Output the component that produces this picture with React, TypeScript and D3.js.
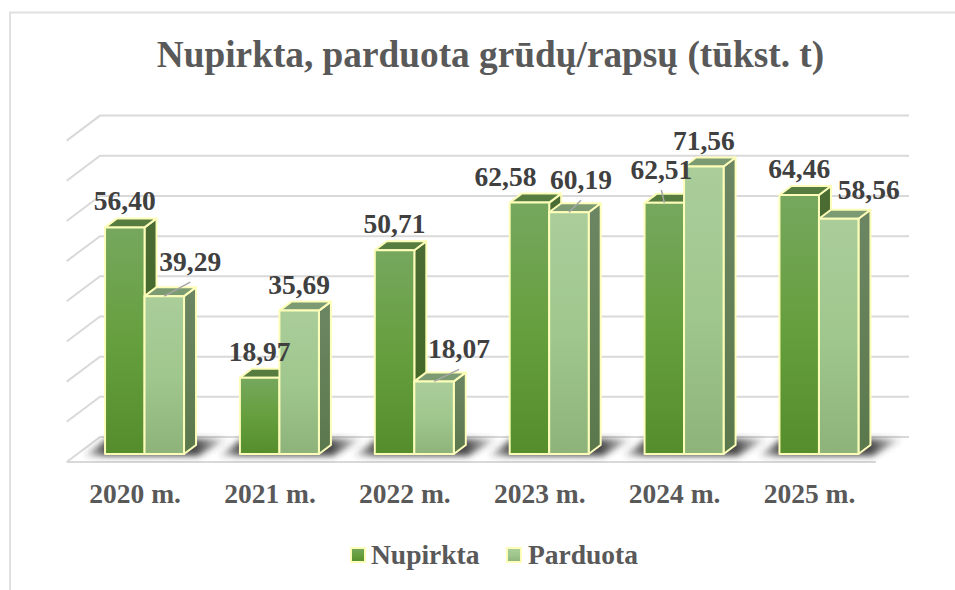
import React from "react";
import { scaleBand, scaleLinear, polygonHull, line } from "d3";

const years = ["2020 m.", "2021 m.", "2022 m.", "2023 m.", "2024 m.", "2025 m."];
const nupirkta = [56.4, 18.97, 50.71, 62.58, 62.51, 64.46];
const parduota = [39.29, 35.69, 18.07, 60.19, 71.56, 58.56];
const seriesNames = ["Nupirkta", "Parduota"];
const gridTicks = [0, 10, 20, 30, 40, 50, 60, 70, 80];
const title = "Nupirkta, parduota grūdų/rapsų (tūkst. t)";

// hand placed labels, [series][year] => [dx, dy, has leader line]
const labelMoves: Record<string, [number, number, boolean]> = {
  "1-0": [26, -8, true],
  "1-2": [25, -6, true],
  "0-3": [-24, 0, false],
  "1-3": [12, -6, true],
  "0-4": [-3, -7, true],
  "1-5": [30, -3, false],
};

const WIDTH = 955;
const HEIGHT = 590;
const FONT = "'Liberation Serif', serif";
const DARK = "#404040";
const GREY = "#595959";
const GRID = "#d9d9d9";
const EDGE = "#fdfdba";

// plot geometry
const backLeft = 100;
const frontLeft = 66.7;
const frontRight = 876;
const backRight = 909;
const floorDrop = 25;
const planeDrop = 17; // bars stand this far in front of the back wall
const depthX = 12;
const depthY = 9;
const barWidth = 39.5;
const barShift = 10.4;

const x = scaleBand<string>().domain(years).range([frontLeft, frontRight]);
const y = scaleLinear().domain([0, 80]).range([437, 115.6]);

const fmt = (v: number) => v.toFixed(2).replace(".", ",");
const pts = (p: [number, number][]) => p.map((d) => d.join(",")).join(" ");

const Grad = ({ id, stops }: { id: string; stops: string[] }) => (
  <linearGradient id={id} x1="0" y1="0" x2="0" y2="1">
    {stops.map((c, i) => (
      <stop key={i} offset={i / (stops.length - 1)} stopColor={c} />
    ))}
  </linearGradient>
);

const Bar = ({ s, year, value }: { s: number; year: string; value: number }) => {
  const x0 = (x(year) as number) + x.bandwidth() / 2 + barShift - barWidth + s * barWidth;
  const x1 = x0 + barWidth;
  const top = y(value) + planeDrop;
  const base = y(0) + planeDrop;
  return (
    <g stroke={EDGE} strokeWidth={2} strokeLinejoin="round">
      <polygon
        points={pts([[x1, top], [x1 + depthX, top - depthY], [x1 + depthX, base - depthY], [x1, base]])}
        fill={`url(#side${s})`}
      />
      <polygon
        points={pts([[x0, top], [x0 + depthX, top - depthY], [x1 + depthX, top - depthY], [x1, top]])}
        fill={s === 0 ? "#567c3f" : "#7c9b72"}
      />
      <rect x={x0} y={top} width={barWidth} height={base - top} fill={`url(#front${s})`} />
    </g>
  );
};

const Shadow = ({ year }: { year: string }) => {
  const x0 = (x(year) as number) + x.bandwidth() / 2 + barShift - barWidth;
  const x1 = x0 + 2 * barWidth;
  const hull = polygonHull([
    [x0 - 22, 456],
    [x0 + 2, 439],
    [x1 + 44, 439],
    [x1 + 14, 456],
  ]) as [number, number][];
  return <polygon points={pts(hull)} fill="url(#shadow)" filter="url(#soft)" />;
};

const Label = ({ s, i, value }: { s: number; i: number; value: number }) => {
  const year = years[i];
  const cx = (x(year) as number) + x.bandwidth() / 2 + barShift - barWidth + s * barWidth + barWidth / 2;
  const top = y(value) + planeDrop;
  const [dx, dy, leader] = labelMoves[`${s}-${i}`] || [0, 0, false];
  const lx = cx + dx;
  const ly = top - 17 + dy;
  const path = line()([[cx, top], [lx, ly + 11]]) as string;
  return (
    <g>
      {leader && <path d={path} stroke="#a6a6a6" strokeWidth={1.5} fill="none" />}
      <text x={lx} y={ly} textAnchor="middle" fontSize={27.5} fontWeight="bold" fill={DARK}>
        {fmt(value)}
      </text>
    </g>
  );
};

export default function App() {
  return (
    <svg
      width={WIDTH}
      height={HEIGHT}
      fontFamily={FONT}
      style={{ position: "absolute", left: 0, top: 0, background: "#fff" }}
    >
      <defs>
        <Grad id="front0" stops={["#76a75e", "#669f3e", "#558d2c"]} />
        <Grad id="front1" stops={["#aacd9a", "#a0c78e", "#8db37b"]} />
        <Grad id="side0" stops={["#4b6c34", "#44692a", "#41682a"]} />
        <Grad id="side1" stops={["#6c8663", "#648058", "#5a784c"]} />
        <linearGradient id="shadow" x1="0" y1="0" x2="1" y2="0">
          <stop offset="0" stopColor="#333" stopOpacity={0.05} />
          <stop offset="0.15" stopColor="#333" stopOpacity={0.85} />
          <stop offset="0.78" stopColor="#333" stopOpacity={0.9} />
          <stop offset="1" stopColor="#333" stopOpacity={0.05} />
        </linearGradient>
        <filter id="soft" x="-20%" y="-40%" width="140%" height="180%">
          <feGaussianBlur stdDeviation="3" />
        </filter>
      </defs>

      {/* chart frame runs off the right and bottom of the picture */}
      <path d={`M${WIDTH},12.5H10V${HEIGHT}`} fill="none" stroke="#e0e0e0" strokeWidth={2} />

      <text x={490.5} y={67} textAnchor="middle" fontSize={37.3} fontWeight="bold" fill={GREY}>
        {title}
      </text>

      {/* walls */}
      <g stroke={GRID} strokeWidth={2} fill="none">
        {gridTicks.map((t) => (
          <path
            key={t}
            d={`M${frontLeft},${y(t) + floorDrop}L${backLeft},${y(t)}H${backRight}`}
          />
        ))}
        <path d={`M${frontLeft},${y(0) + floorDrop}H${frontRight}`} />
      </g>

      {years.map((d) => (
        <Shadow key={d} year={d} />
      ))}
      {years.map((d, i) => (
        <g key={d}>
          <Bar s={0} year={d} value={nupirkta[i]} />
          <Bar s={1} year={d} value={parduota[i]} />
        </g>
      ))}

      {years.map((d, i) => (
        <g key={d}>
          <Label s={0} i={i} value={nupirkta[i]} />
          <Label s={1} i={i} value={parduota[i]} />
        </g>
      ))}

      {years.map((d) => (
        <text
          key={d}
          x={(x(d) as number) + x.bandwidth() / 2 + 1}
          y={503}
          textAnchor="middle"
          fontSize={27.5}
          fontWeight="bold"
          fill={GREY}
        >
          {d}
        </text>
      ))}

      {/* legend */}
      {seriesNames.map((name, s) => (
        <g key={name} transform={`translate(${s === 0 ? 351 : 507},548)`}>
          <rect width={14} height={14} fill={`url(#front${s})`} stroke={EDGE} strokeWidth={2} />
          <text x={s === 0 ? 20 : 21} y={16} fontSize={27.5} fontWeight="bold" fill={GREY}>
            {name}
          </text>
        </g>
      ))}
    </svg>
  );
}
